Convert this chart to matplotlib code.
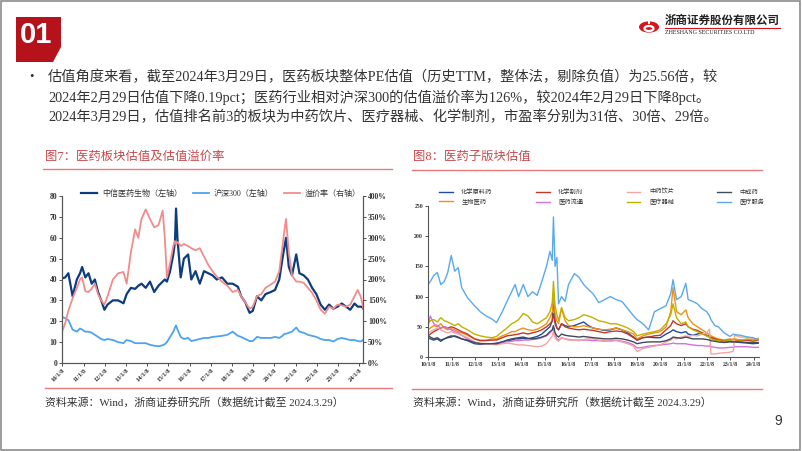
import numpy as np
import matplotlib
matplotlib.use("Agg")
import matplotlib.pyplot as plt
from matplotlib.patches import Polygon, Rectangle, Circle
from matplotlib.lines import Line2D
from matplotlib.ticker import FuncFormatter

plt.rcParams['font.family'] = ['Liberation Serif', 'Noto Sans CJK SC', 'DejaVu Sans']
plt.rcParams['axes.unicode_minus'] = False

W, H = 802, 451

# ---------------- data: 图7 ----------------
yrs_l = [2010.0, 2010.15, 2010.3, 2010.5, 2010.7, 2010.85, 2010.95, 2011.1, 2011.25, 2011.4,
         2011.55, 2011.7, 2011.85, 2012.0, 2012.15, 2012.4, 2012.65, 2012.9, 2013.05, 2013.25,
         2013.45, 2013.6, 2013.75, 2013.95, 2014.15, 2014.35, 2014.55, 2014.75, 2014.85, 2014.95,
         2015.1, 2015.25, 2015.33, 2015.38, 2015.45, 2015.6, 2015.75, 2015.95, 2016.1, 2016.3,
         2016.5, 2016.7, 2016.9, 2017.1, 2017.3, 2017.55, 2017.8, 2018.05, 2018.3, 2018.45,
         2018.65, 2018.85, 2019.0, 2019.2, 2019.4, 2019.6, 2019.85, 2020.05, 2020.25, 2020.4,
         2020.5, 2020.57, 2020.7, 2020.85, 2021.05, 2021.2, 2021.4, 2021.6, 2021.8, 2022.0,
         2022.2, 2022.4, 2022.6, 2022.8, 2023.0, 2023.2, 2023.4, 2023.6, 2023.8, 2023.95,
         2024.1, 2024.2, 2024.24]
pe_citic_med = [40.5, 41, 43, 32, 40, 43, 46, 41, 43, 38,
                40, 34, 30, 25.5, 28, 30, 30, 28.6, 33, 36,
                35.5, 37, 38, 36, 39, 34, 37, 39, 40, 39,
                44, 52, 58, 74, 59, 41, 50, 52, 40, 44,
                38, 44, 43, 42, 40, 41, 38, 38, 36.5, 32,
                29, 24, 25, 32, 30, 33, 34, 35, 40, 50,
                56, 60, 46, 42, 52, 43, 42, 40, 36, 33,
                28, 25.5, 28, 26, 27, 28.5, 27, 25.5, 28.5, 27,
                27, 26.5, 25.6]
pe_hs300 = [22, 21.5, 20.5, 16, 15, 16.5, 16, 15, 15, 14.5,
            13.5, 12.5, 11.5, 11, 11.5, 11, 10, 9.5, 11, 10.5,
            9.5, 9.5, 9.5, 9.5, 8.7, 8.3, 8, 8.5, 9, 10,
            12.5, 15, 17, 18, 16, 12.5, 11.5, 12, 10.5, 11,
            11.5, 12, 12, 12.5, 12.7, 13, 13.5, 15, 13, 12.5,
            11.5, 10.5, 10.5, 12.5, 12, 12, 12, 12.5, 12, 13,
            14, 14, 14.5, 15, 17, 15, 14.5, 13.5, 13, 12.5,
            11.5, 11, 11, 10.3, 11.5, 12, 11.5, 11, 11, 10.5,
            10.3, 11, 11.3]
premium_pct = [75, 95, 125, 155, 180, 200, 205, 172, 170, 178,
               190, 165, 150, 140, 160, 200, 215, 218, 190, 265,
               320, 300, 345, 368, 345, 325, 330, 365, 300, 205,
               240, 280, 292, 285, 290, 280, 285, 280, 275, 270,
               275, 255, 235, 220, 207, 195, 185, 170, 175, 160,
               145, 130, 135, 160, 165, 180, 188, 195, 220, 280,
               320, 345, 265, 210, 195, 195, 192, 180, 168, 150,
               128, 118, 135, 130, 140, 138, 135, 140, 160, 175,
               158, 135, 126]
left_names = ['中信医药生物（左轴）', '沪深300（左轴）', '溢价率（右轴）']

# ---------------- data: 图8 ----------------
yrs_r = [2010.0, 2010.1, 2010.25, 2010.4, 2010.55, 2010.7, 2010.85, 2011.0, 2011.15, 2011.3,
         2011.45, 2011.7, 2012.0, 2012.25, 2012.5, 2012.75, 2012.95, 2013.2, 2013.4, 2013.6,
         2013.75, 2013.9, 2014.1, 2014.3, 2014.5, 2014.7, 2014.9, 2015.1, 2015.25, 2015.35,
         2015.4, 2015.47, 2015.55, 2015.62, 2015.75, 2015.9, 2016.05, 2016.3, 2016.5, 2016.7,
         2016.9, 2017.1, 2017.35, 2017.6, 2017.85, 2018.1, 2018.35, 2018.6, 2018.85, 2019.0,
         2019.25, 2019.5, 2019.75, 2020.0, 2020.25, 2020.45, 2020.55, 2020.7, 2020.9, 2021.1,
         2021.2, 2021.4, 2021.6, 2021.8, 2022.0, 2022.12, 2022.18, 2022.35, 2022.5, 2022.75,
         2023.0, 2023.15, 2023.2, 2023.45, 2023.75, 2024.0, 2024.24]
pe_chem_api = [32, 30, 28, 30, 26, 30, 32, 33, 35, 33,
               30, 27, 22, 21, 22, 22, 23, 25, 27, 28,
               30, 30, 31, 30, 32, 34, 38, 45, 50, 60,
               105, 60, 48, 45, 55, 52, 50, 52, 55, 58,
               52, 48, 46, 44, 45, 48, 45, 40, 33, 28,
               32, 33, 32, 32, 38, 42, 45, 42, 40, 42,
               38, 36, 38, 40, 35, 34, 33, 30, 28, 25,
               26, 25, 25, 24, 23, 22, 23]
pe_biomed = [45, 48, 52, 50, 55, 48, 45, 47, 45, 42,
             40, 36, 30, 28, 28, 30, 30, 35, 38, 42,
             42, 45, 48, 45, 44, 46, 50, 55, 65, 75,
             105, 70, 60, 55, 80, 60, 52, 50, 50, 52,
             50, 48, 46, 45, 46, 48, 45, 42, 38, 30,
             35, 38, 40, 42, 50, 75, 115, 75, 70, 78,
             65, 55, 50, 45, 40, 37, 35, 32, 30, 28,
             30, 29, 28, 27, 28, 26, 28]
pe_chem_prep = [35, 38, 42, 45, 48, 50, 48, 50, 48, 45,
                42, 38, 30, 27, 27, 28, 28, 32, 35, 36,
                37, 38, 40, 38, 40, 42, 45, 50, 55, 60,
                72, 55, 48, 45, 55, 50, 48, 46, 45, 46,
                45, 44, 42, 40, 42, 43, 42, 38, 32, 28,
                32, 33, 35, 36, 45, 52, 60, 55, 52, 55,
                50, 46, 44, 40, 36, 34, 32, 30, 28, 27,
                28, 29, 29, 28, 28, 27, 29]
pe_distrib = [50, 68, 55, 52, 48, 50, 48, 45, 42, 40,
              36, 30, 24, 22, 22, 21, 22, 24, 25, 26,
              27, 27, 28, 28, 29, 30, 32, 35, 40, 44,
              48, 36, 30, 28, 32, 30, 29, 28, 28, 28,
              28, 27, 27, 26, 27, 28, 26, 24, 20, 15,
              16, 18, 19, 20, 21, 22, 23, 22, 22, 22,
              21, 20, 19, 19, 18, 18, 17, 16, 15, 15,
              16, 16, 17, 17, 17, 16, 16]
pe_tcm_pieces = [40, 42, 45, 48, 45, 42, 40, 42, 40, 38,
                 36, 32, 25, 23, 22, 21, 20, 22, 23, 22,
                 21, 20, 20, 19, 18, 17, 18, 22, 30, 35,
                 42, 32, 28, 26, 32, 30, 28, 28, 27, 29,
                 30, 30, 28, 27, 26, 27, 25, 22, 18, 9,
                 14, 16, 18, 20, 25, 28, 32, 30, 33, 35,
                 34, 36, 35, 38, 40, 46, 5, 5, 6, 7,
                 8, 10, 36, 33, 33, 30, 31]
pe_device = [55, 60, 62, 58, 65, 60, 58, 55, 52, 55,
             50, 45, 38, 35, 33, 32, 34, 42, 48, 55,
             58, 62, 72, 68, 58, 55, 60, 65, 75, 90,
             125, 85, 70, 60, 82, 65, 60, 62, 65, 70,
             68, 65, 60, 58, 55, 55, 52, 48, 42, 35,
             38, 40, 42, 45, 55, 70, 88, 65, 55, 58,
             50, 45, 42, 38, 35, 32, 30, 28, 27, 26,
             28, 29, 30, 28, 30, 28, 30]
pe_tcm = [35, 33, 30, 32, 28, 30, 33, 35, 34, 32,
          30, 28, 24, 22, 22, 22, 22, 25, 28, 30,
          31, 32, 33, 31, 30, 31, 33, 36, 42, 45,
          52, 40, 35, 33, 38, 36, 35, 34, 33, 34,
          33, 32, 31, 30, 30, 31, 30, 28, 25, 22,
          24, 25, 25, 25, 27, 30, 33, 32, 31, 33,
          32, 30, 30, 30, 29, 28, 27, 26, 25, 24,
          25, 25, 25, 25, 24, 24, 24]
pe_service = [120, 125, 135, 140, 120, 125, 140, 168, 142, 148,
              115, 98, 85, 75, 68, 63, 57, 75, 92, 108,
              120, 100, 120, 100, 108, 102, 125, 150, 175, 160,
              232, 150, 165, 88, 100, 92, 120, 138, 132, 120,
              112, 105, 90, 95, 100, 95, 92, 80, 68, 62,
              55, 45, 75, 80, 85, 105, 128, 95, 100, 122,
              95, 92, 88, 80, 75, 68, 62, 52, 50, 40,
              34, 38, 37, 36, 33, 32, 28]

# order gives the 4-column legend layout of the original
right_series = [('化学原料药', pe_chem_api, '#1f4e9c'),
                ('生物医药', pe_biomed, '#f39019'),
                ('化学制剂', pe_chem_prep, '#c0392b'),
                ('医药流通', pe_distrib, '#d273e0'),
                ('中药饮片', pe_tcm_pieces, '#f5a3a3'),
                ('医疗器械', pe_device, '#c2b000'),
                ('中成药', pe_tcm, '#3f4a5a'),
                ('医疗服务', pe_service, '#5aa9ee')]

tick_years = list(range(2010, 2025))
tick_labels = ['%02d/1/8' % (y - 2000) for y in tick_years]


def fx(x):
    return x / W


def fy(y):
    return 1 - y / H


fig = plt.figure(figsize=(W / 100, H / 100), dpi=100)

# slide frame
fig.patches.append(Rectangle((0.001, 0.002), 0.997, 0.995, transform=fig.transFigure,
                             fill=False, edgecolor='#8c8c8c', lw=1.2))

# "01" box with cut corner
box = [(16, 17), (61, 17), (61, 47), (53, 62), (16, 62)]
fig.patches.append(Polygon([(fx(a), fy(b)) for a, b in box], closed=True,
                           transform=fig.transFigure, facecolor='#b5121b', edgecolor='none'))
fig.text(fx(36), fy(35), '01', color='white', fontsize=21, fontweight='bold',
         family='Liberation Sans', ha='center', va='center')

# logo
fig.patches.append(Circle((fx(649), fy(27)), 10 / W, transform=fig.transFigure,
                          facecolor='#d7141a', edgecolor='none'))
fig.patches.append(Circle((fx(649), fy(28.5)), 4.5 / W, transform=fig.transFigure,
                          facecolor='none', edgecolor='white', lw=1.6))
fig.patches.append(Rectangle((fx(647.8), fy(24)), 2.4 / W, 7 / H, transform=fig.transFigure,
                             facecolor='white', edgecolor='none'))
fig.text(fx(665), fy(20), '浙商证券股份有限公司', fontsize=8.3, fontweight='bold',
         family=['Noto Sans CJK SC'], color='#222222', ha='left', va='center')
fig.add_artist(Line2D([fx(665), fx(780)], [fy(28), fy(28)], color='#d7141a', lw=0.8))
fig.text(fx(665), fy(33), 'ZHESHANG SECURITIES CO.LTD', fontsize=4.3, color='#222222',
         family='Liberation Serif', ha='left', va='center')

# bullet text
body_font = ['Liberation Serif', 'Noto Sans CJK SC']
fig.text(fx(31), fy(77), '•', fontsize=9, color='#333333', ha='center', va='center')
body = ['估值角度来看，截至2024年3月29日，医药板块整体PE估值（历史TTM，整体法，剔除负值）为25.56倍，较',
        '2024年2月29日估值下降0.19pct；医药行业相对沪深300的估值溢价率为126%，较2024年2月29日下降8pct。',
        '2024年3月29日，估值排名前3的板块为中药饮片、医疗器械、化学制剂，市盈率分别为31倍、30倍、29倍。']
for i, line in enumerate(body):
    fig.text(fx(48), fy(77 + 20 * i), line, fontsize=10.25, family=body_font,
             color='#333333', ha='left', va='center')

# chart titles and rules
title_col = '#c8474b'
rule_col = '#e8797c'
fig.text(fx(45), fy(157), '图7：医药板块估值及估值溢价率', fontsize=8.9, color=title_col,
         family=body_font, ha='left', va='center')
fig.text(fx(413), fy(157), '图8：医药子版块估值', fontsize=8.9, color=title_col,
         family=body_font, ha='left', va='center')
for x0, x1, y in [(43, 392, 169), (412, 762, 170), (45, 392, 388), (412, 762, 389)]:
    fig.add_artist(Line2D([fx(x0), fx(x1)], [fy(y), fy(y)], color=rule_col, lw=1.0))

src = '资料来源：Wind，浙商证券研究所（数据统计截至 2024.3.29）'
fig.text(fx(45), fy(402), src, fontsize=7.85, family=body_font, color='#333333',
         ha='left', va='center')
fig.text(fx(413), fy(402), src, fontsize=7.85, family=body_font, color='#333333',
         ha='left', va='center')
fig.text(fx(778), fy(421), '9', fontsize=10, family='Liberation Sans', color='#333333',
         ha='center', va='center')

# ---------------- 图7 ----------------
ax1 = fig.add_axes([fx(62), fy(363), 301 / W, 167 / H])
ax2 = ax1.twinx()
l1, = ax1.plot(yrs_l, pe_citic_med, color='#0d3d7e', lw=1.6)
l2, = ax1.plot(yrs_l, pe_hs300, color='#4ea3f0', lw=1.3)
l3, = ax2.plot(yrs_l, premium_pct, color='#f28b8b', lw=1.3)
ax1.set_xlim(2010.0, 2024.2)
ax1.set_ylim(0, 80)
ax2.set_ylim(0, 400)
ax1.set_yticks(range(0, 81, 10))
ax2.set_yticks(range(0, 401, 50))
ax2.yaxis.set_major_formatter(FuncFormatter(lambda v, p: '%d%%' % v))
ax1.set_xticks([y + 7 / 365 for y in tick_years])
ax1.set_xticklabels(tick_labels, rotation=45, ha='right', va='top', rotation_mode='anchor')
for ax in (ax1, ax2):
    ax.spines['top'].set_visible(False)
    for s in ('left', 'right', 'bottom'):
        ax.spines[s].set_color('#555555')
        ax.spines[s].set_linewidth(0.8)
    ax.tick_params(axis='both', length=2, width=0.6, labelsize=5.5, pad=1.5,
                   colors='#333333')
for t in ax1.get_yticklabels() + ax2.get_yticklabels():
    t.set_fontweight('bold')
for t in ax1.get_xticklabels():
    t.set_fontsize(4.6)
    t.set_fontweight('bold')
leg1 = ax1.legend([l1, l2, l3], left_names, ncol=3, loc='center',
                  bbox_to_anchor=(0.528, 1.012), frameon=False,
                  prop={'family': body_font, 'size': 5.8}, handlelength=2.0,
                  columnspacing=1.3, handletextpad=0.6, borderaxespad=0)
for t in leg1.get_texts():
    t.set_color('#333333')

# ---------------- 图8 ----------------
ax3 = fig.add_axes([fx(428), fy(357), 331 / W, 151 / H])
for name, vals, col in right_series:
    ax3.plot(yrs_r, vals, color=col, lw=1.0, label=name)
ax3.set_xlim(2010.0, 2024.25)
ax3.set_ylim(0, 250)
ax3.set_yticks(range(0, 251, 50))
ax3.set_xticks([y + 7 / 365 for y in tick_years])
ax3.set_xticklabels(tick_labels)
for s in ('top', 'right'):
    ax3.spines[s].set_visible(False)
for s in ('left', 'bottom'):
    ax3.spines[s].set_color('#555555')
    ax3.spines[s].set_linewidth(0.8)
ax3.tick_params(axis='both', length=2, width=0.6, labelsize=4.2, pad=1.5, colors='#333333')
for t in ax3.get_yticklabels() + ax3.get_xticklabels():
    t.set_fontweight('bold')
leg3 = ax3.legend(ncol=4, loc='lower left', bbox_to_anchor=(0.025, 0.99, 1.0, 0.12),
                  mode='expand', frameon=False, prop={'family': body_font, 'size': 4.5},
                  handlelength=2.2, handletextpad=1.4, labelspacing=0.6, borderaxespad=0)
for t in leg3.get_texts():
    t.set_color('#333333')

fig.savefig('out.png', dpi=100)
